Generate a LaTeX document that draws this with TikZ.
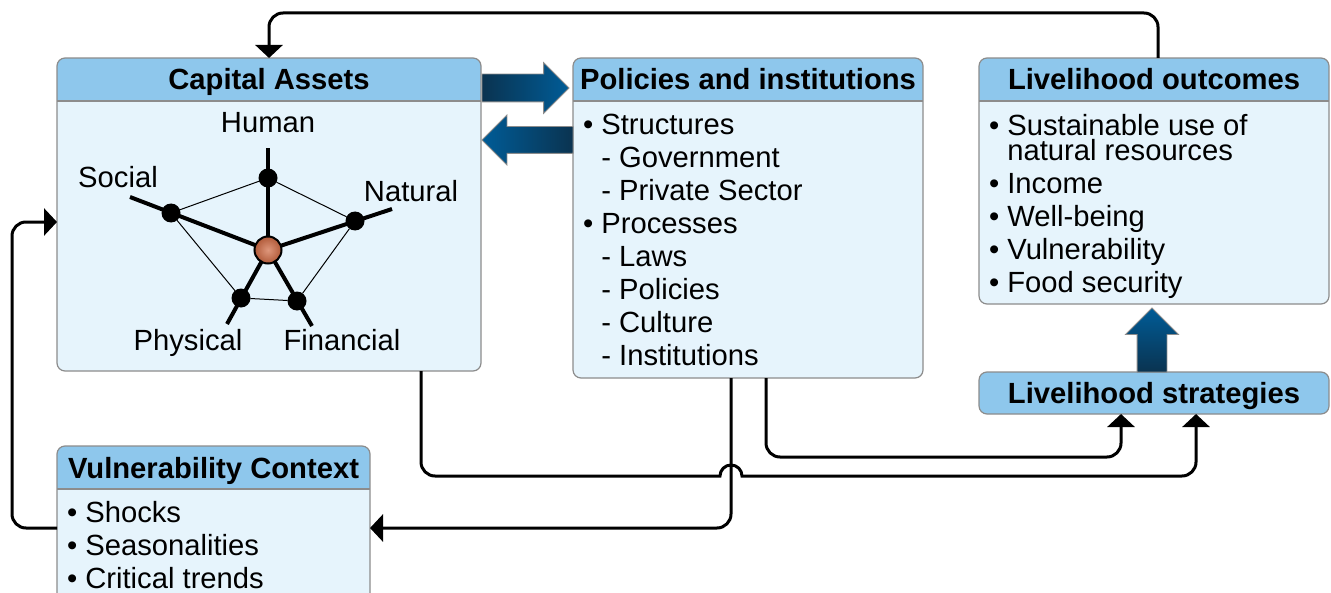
\documentclass[tikz,border=0pt]{standalone}
\usepackage{fontspec}
\setmainfont{Liberation Sans}
\usetikzlibrary{arrows.meta,shapes.arrows}

\definecolor{headblue}{HTML}{8EC7EC}
\definecolor{bodyblue}{HTML}{E6F4FC}
\definecolor{rimgray}{HTML}{8C8C8C}
\definecolor{arrowdark}{HTML}{0A3350}
\definecolor{arrowblue}{HTML}{005C97}
\definecolor{coreorange}{HTML}{D06A43}

\begin{document}
\begin{tikzpicture}[x=0.5pt,y=-0.5pt]
  \tikzstyle{every node}+=[inner sep=0pt, outer sep=0pt, font=\fontsize{14.6}{16.5}\selectfont]
  \tikzstyle{panel}=[draw=rimgray, line width=0.6pt, fill=bodyblue, rounded corners=4pt, anchor=north west,
    path picture={\fill [headblue, sharp corners] (path picture bounding box.north west) rectangle ([yshift=-21.5pt]path picture bounding box.north east);
      \draw [rimgray, line width=0.6pt, sharp corners] ([yshift=-21.5pt]path picture bounding box.north west) -- ([yshift=-21.5pt]path picture bounding box.north east);}]
  \tikzstyle{title}=[anchor=base, font=\fontsize{14.6}{16.5}\selectfont\bfseries]
  \tikzstyle{list}=[anchor=north west, align=left]
  \tikzstyle{conn}=[line width=1.5pt, rounded corners=7pt, -{Triangle[width=13.5pt,length=6.5pt]}]
  \tikzstyle{blockarrow}=[single arrow, draw=rimgray, line width=0.4pt, single arrow head extend=5.75pt]
  \tikzstyle{dot}=[circle, fill=black, minimum size=9.5pt]
  \tikzstyle{spoke}=[line width=2pt]
  \tikzstyle{rim}=[line width=0.5pt]
  \useasboundingbox (0,0) rectangle (1331,593);

  % boxes
  \node [panel, minimum width=212pt, minimum height=156.5pt] (capital) at (57,58) {};
  \node [title] (capitalhd) at ([yshift=-16pt]capital.north) {Capital Assets};
  \node [panel, minimum width=175pt, minimum height=160pt] (policies) at (573,58) {};
  \node [title] (policieshd) at ([yshift=-16pt]policies.north) {Policies and institutions};
  \node [panel, minimum width=175pt, minimum height=123pt] (outcomes) at (979,58) {};
  \node [title] (outcomeshd) at ([yshift=-16pt]outcomes.north) {Livelihood outcomes};
  \node [draw=rimgray, line width=0.6pt, fill=headblue, rounded corners=4pt, anchor=north west,
    minimum width=175pt, minimum height=21pt] (strategies) at (979,372) {};
  \node [title] (strategieshd) at ([yshift=-15.5pt]strategies.north) {Livelihood strategies};
  \node [panel, minimum width=156.5pt, minimum height=82pt] (vulnctx) at (57,446) {};
  \node [title] (vulnctxhd) at ([yshift=-16pt]vulnctx.north) {Vulnerability Context};

  % lists
  \node [list] (policiestxt) at (583,114) {\textbullet\ Structures\\
    \phantom{\textbullet\ }- Government\\
    \phantom{\textbullet\ }- Private Sector\\
    \textbullet\ Processes\\
    \phantom{\textbullet\ }- Laws\\
    \phantom{\textbullet\ }- Policies\\
    \phantom{\textbullet\ }- Culture\\
    \phantom{\textbullet\ }- Institutions};
  \node [list] (outcomestxt) at (989,114) {\textbullet\ Sustainable use of\\[-4pt]
    \phantom{\textbullet\ }natural resources\\
    \textbullet\ Income\\
    \textbullet\ Well-being\\
    \textbullet\ Vulnerability\\
    \textbullet\ Food security};
  \node [list] (vulnctxtxt) at (67,501) {\textbullet\ Shocks\\
    \textbullet\ Seasonalities\\
    \textbullet\ Critical trends};

  % capital pentagon
  \node [circle, draw=black, line width=1pt, minimum size=13.5pt, shading=radial,
    inner color=coreorange!70!white, outer color=coreorange!85!black] (ctr) at (268,250) {};
  \node [dot] (hdot) at (268,178) {};
  \node [dot] (sdot) at (171,213) {};
  \node [dot] (ndot) at (355,221) {};
  \node [dot] (pdot) at (241,298) {};
  \node [dot] (fdot) at (297,301) {};
  \coordinate (hend) at (268,148);
  \coordinate (send) at (130,197);
  \coordinate (nend) at (392,209);
  \coordinate (pend) at (227,324);
  \coordinate (fend) at (312,326);
  \draw [rim] (hdot) -- (sdot) -- (pdot) -- (fdot) -- (ndot) -- (hdot);
  \draw [spoke] (ctr) -- (hend);
  \draw [spoke] (ctr) -- (send);
  \draw [spoke] (ctr) -- (nend);
  \draw [spoke] (ctr) -- (pend);
  \draw [spoke] (ctr) -- (fend);
  \node [anchor=base] (humanlbl) at (268,133) {Human};
  \node [anchor=base] (sociallbl) at (118,188) {Social};
  \node [anchor=base] (naturallbl) at (411,202) {Natural};
  \node [anchor=base] (physicallbl) at (188,350) {Physical};
  \node [anchor=base] (financiallbl) at (342,350) {Financial};

  % block arrows
  \node [blockarrow, anchor=tail, minimum height=43.5pt, inner sep=6.75pt,
    left color=arrowdark, right color=arrowblue] (toinst) at (482,88) {};
  \node [blockarrow, anchor=tail, shape border rotate=180, minimum height=45.5pt, inner sep=6.5pt,
    left color=arrowblue, right color=arrowdark] (toassets) at (573,140) {};
  \node [blockarrow, anchor=tail, shape border rotate=90, minimum height=32pt, inner sep=7.25pt,
    bottom color=arrowdark, top color=arrowblue] (tooutcomes) at (1152,372) {};

  % connectors
  \draw [conn] ([xshift=2pt]outcomes.north) -- ++(0,-45) -| (capital.north);
  \draw [conn] (vulnctx.west) -- ++(-45,0) |- ([yshift=-3.75pt]capital.west);
  \draw [conn, sharp corners] ([xshift=76pt]capital.south) -- ++(0,91)
    arc [start angle=180, end angle=270, radius=7pt] -- (720,476)
    arc [start angle=180, end angle=0, radius=5.5pt] -- (1182,476)
    arc [start angle=270, end angle=360, radius=7pt] -- ([xshift=21pt]strategies.south);
  \draw [conn] ([xshift=9pt]policies.south) -- ++(0,79) -| ([xshift=-16.5pt]strategies.south);
  \draw [conn] ([xshift=-8.5pt]policies.south) |- (vulnctx.east);
\end{tikzpicture}
\end{document}
